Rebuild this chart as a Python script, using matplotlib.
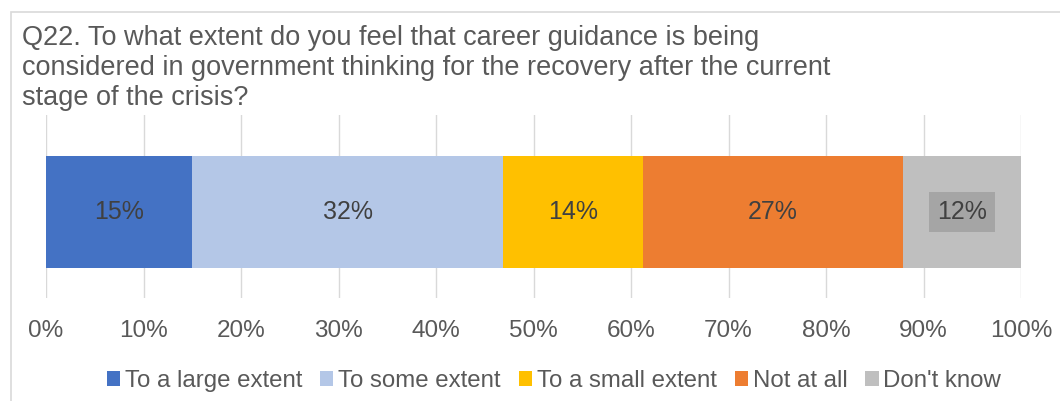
import matplotlib.pyplot as plt
from matplotlib.patches import Rectangle

plt.rcParams['font.family'] = ['Liberation Sans', 'DejaVu Sans']

categories = ["To a large extent", "To some extent", "To a small extent", "Not at all", "Don't know"]
values = [15.0, 31.9, 14.3, 26.7, 12.1]
labels = ["15%", "32%", "14%", "27%", "12%"]
colors = ["#4472C4", "#B4C7E7", "#FFC000", "#ED7D31", "#BFBFBF"]
ticks = list(range(0, 101, 10))

fig = plt.figure(figsize=(10.6, 4.01), dpi=100)
fig.patches.append(Rectangle((11 / 1060, -0.1), 1.2, 1 - 12 / 401 + 0.1, transform=fig.transFigure,
                             fill=False, edgecolor="#D9D9D9", linewidth=1.2))

ax = fig.add_axes([46 / 1060, 1 - 298 / 401, (1021 - 46) / 1060, 183 / 401])

left = 0
for cat, v, lab, c in zip(categories, values, labels, colors):
    ax.barh(0, v, left=left, height=0.612, color=c, label=cat, zorder=2)
    box = dict(facecolor="#A5A5A5", edgecolor="none", pad=6) if cat == "Don't know" else None
    ax.text(left + v / 2, 0, lab, ha="center", va="center", fontsize=18, color="#404040", bbox=box, zorder=3)
    left += v

ax.set_xlim(0, 100)
ax.set_ylim(-0.47, 0.53)
ax.set_xticks(ticks)
ax.set_xticklabels([f"{t}%" for t in ticks], fontsize=17.5, color="#595959")
ax.tick_params(axis="x", length=0, pad=16)
ax.set_yticks([])
ax.grid(axis="x", color="#D9D9D9", linewidth=1, zorder=0)
for s in ax.spines.values():
    s.set_visible(False)

fig.text(22 / 1060, 1 - 25 / 401,
         "Q22. To what extent do you feel that career guidance is being\n"
         "considered in government thinking for the recovery after the current\n"
         "stage of the crisis?",
         ha="left", va="top", fontsize=19.5, color="#595959", linespacing=1.2)

fig.legend(loc="center", bbox_to_anchor=(554 / 1060, 1 - 381 / 401), ncol=5, frameon=False,
           fontsize=17.3, handlelength=0.55, handleheight=0.55, handletextpad=0.2, columnspacing=0.75,
           labelcolor="#595959")

fig.savefig("out.png", dpi=100)
